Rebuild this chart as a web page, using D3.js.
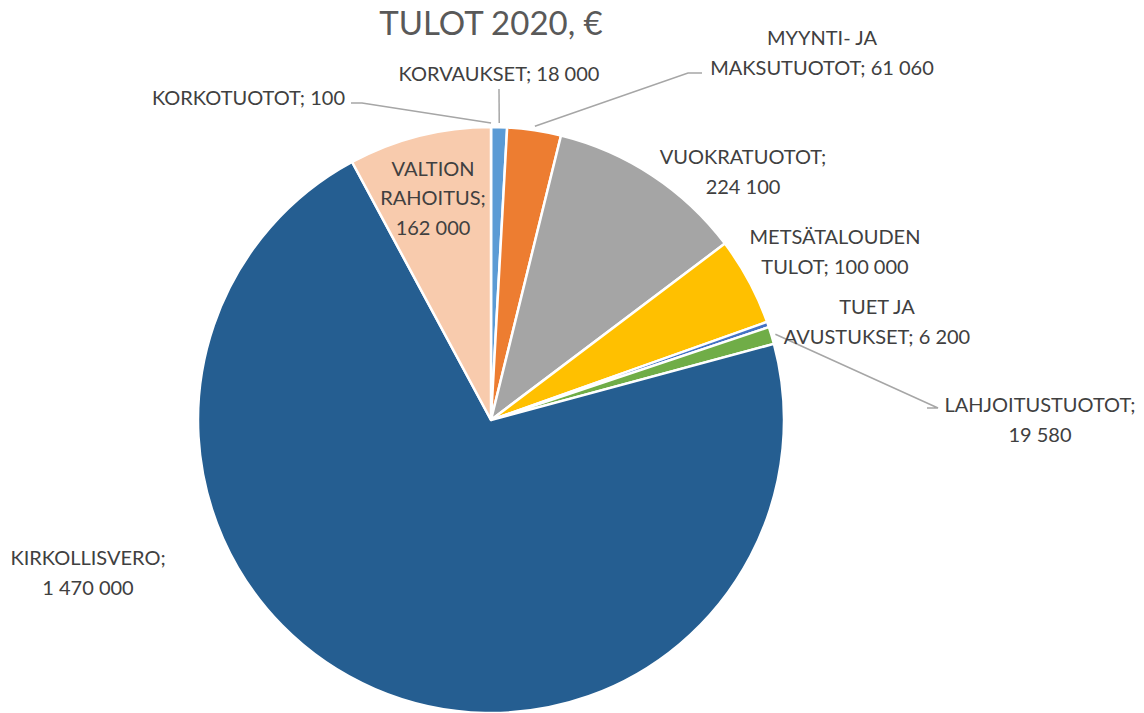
<!DOCTYPE html>
<html lang="fi">
<head>
    <meta charset="UTF-8">
    <title>TULOT 2020</title>
    <script src="https://cdn.jsdelivr.net/npm/d3@7"></script>
    <style>
        body { margin: 0; padding: 0; background: #ffffff; }
        svg { display: block; font-family: Lato, "Open Sans", sans-serif; }
    </style>
</head>
<body>
<div id="chart"></div>
<script>
    // Data
    const categories = ["KORKOTUOTOT", "KORVAUKSET", "MYYNTI- JA MAKSUTUOTOT", "VUOKRATUOTOT",
        "METSÄTALOUDEN TULOT", "TUET JA AVUSTUKSET", "LAHJOITUSTUOTOT", "KIRKOLLISVERO", "VALTION RAHOITUS"];
    const values = [100, 18000, 61060, 224100, 100000, 6200, 19580, 1470000, 162000];
    const colors = ["#4472C4", "#5B9BD5", "#ED7D31", "#A5A5A5", "#FFC000", "#4472C4", "#70AD47", "#255E91", "#F8CBAD"];

    // Label text lines (the last line gets the value appended)
    const labelLines = [
        ["KORKOTUOTOT;"],
        ["KORVAUKSET;"],
        ["MYYNTI- JA", "MAKSUTUOTOT;"],
        ["VUOKRATUOTOT;", ""],
        ["METSÄTALOUDEN", "TULOT;"],
        ["TUET JA", "AVUSTUKSET;"],
        ["LAHJOITUSTUOTOT;", ""],
        ["KIRKOLLISVERO;", ""],
        ["VALTION", "RAHOITUS;", ""]
    ];

    // Label placement, offsets from pie centre: [x, y, anchor, leader points or null]
    const labelPlace = [
        [-146, -323, "end", [[-140, -317], [-129, -317]]],
        [8, -347, "middle", [[8, -331]]],
        [331, -368, "middle", [[211, -347], [197, -347]]],
        [252, -249, "middle", null],
        [344, -169, "middle", null],
        [386, -99, "middle", null],
        [549, -1, "middle", [[436, -12], [447, -12]]],
        [-403, 152, "middle", null],
        [-58, -223, "middle", null]
    ];

    const width = 1144;
    const height = 713;
    const cx = 491, cy = 420, radius = 293;
    const lineH = 29.5;

    const fmt = v => d3.format(",")(v).replace(/,/g, " ");

    const svg = d3.select("#chart").append("svg")
        .attr("width", width)
        .attr("height", height)
        .attr("viewBox", [0, 0, width, height]);

    svg.append("text")
        .attr("x", cx)
        .attr("y", 22)
        .attr("text-anchor", "middle")
        .attr("dominant-baseline", "central")
        .attr("fill", "#595959")
        .attr("font-size", 33)
        .text("TULOT 2020, €");

    const pie = d3.pie().sort(null).value(d => d)(values);
    const arc = d3.arc().innerRadius(0).outerRadius(radius);

    const g = svg.append("g").attr("transform", `translate(${cx},${cy})`);

    g.selectAll("path.slice")
        .data(pie)
        .join("path")
        .attr("class", "slice")
        .attr("d", arc)
        .attr("fill", (d, i) => colors[i])
        .attr("stroke", "#ffffff")
        .attr("stroke-width", 2.5)
        .attr("stroke-linejoin", "round");

    // Leader lines
    const line = d3.line();
    pie.forEach((d, i) => {
        const pts = labelPlace[i][3];
        if (!pts) return;
        const a = (d.startAngle + d.endAngle) / 2;
        const start = [Math.sin(a) * (radius + 4), -Math.cos(a) * (radius + 4)];
        g.append("path")
            .attr("d", line([start, ...pts.slice().reverse()]))
            .attr("fill", "none")
            .attr("stroke", "#A6A6A6")
            .attr("stroke-width", 1.5);
    });

    // Labels
    pie.forEach((d, i) => {
        const [lx, ly, anchor] = labelPlace[i];
        const lines = labelLines[i].slice();
        const last = lines.length - 1;
        lines[last] = (lines[last] ? lines[last] + " " : "") + fmt(values[i]);
        const t = g.append("text")
            .attr("text-anchor", anchor)
            .attr("fill", "#404040")
            .attr("font-size", 20);
        lines.forEach((s, k) => {
            t.append("tspan")
                .attr("x", lx)
                .attr("y", ly + (k - (lines.length - 1) / 2) * lineH)
                .attr("dominant-baseline", "central")
                .text(s);
        });
    });
</script>
</body>
</html>
